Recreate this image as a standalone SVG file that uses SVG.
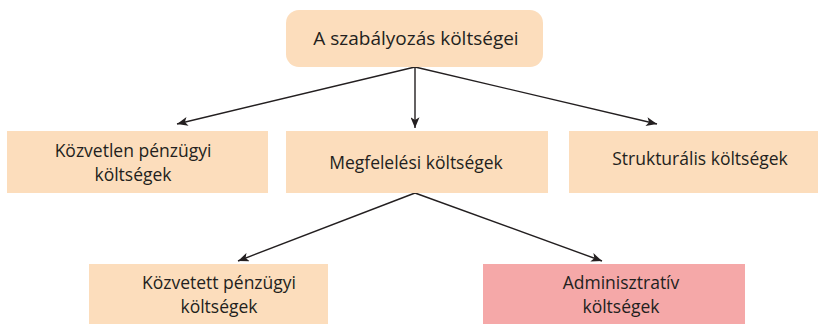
<svg xmlns="http://www.w3.org/2000/svg" width="820" height="324" viewBox="0 0 820 324">
<style>
.box{fill:#FCDDBC}
.pink{fill:#F5A8A8}
.t{font-family:"Open Sans","Liberation Sans",sans-serif;font-size:17.5px;fill:#231F20;text-anchor:middle}
.big{font-size:19px}
.c{stroke:#231F20;stroke-width:1.4;fill:none}
</style>
<defs>
<marker id="ah" viewBox="0 0 12 10" refX="12" refY="5" markerWidth="12" markerHeight="9" markerUnits="userSpaceOnUse" orient="auto">
<path d="M0,0 L12,5 L0,10 L3,5 z" fill="#231F20"/>
</marker>
</defs>
<rect width="820" height="324" fill="#fff"/>
<g id="connectors">
<line class="c" x1="415" y1="67" x2="415" y2="128" marker-end="url(#ah)"/>
<line class="c" x1="415" y1="67" x2="177" y2="124" marker-end="url(#ah)"/>
<line class="c" x1="415" y1="67" x2="657" y2="124" marker-end="url(#ah)"/>
<line class="c" x1="415" y1="193" x2="238" y2="261" marker-end="url(#ah)"/>
<line class="c" x1="415" y1="193" x2="602" y2="261" marker-end="url(#ah)"/>
</g>
<g id="top">
<rect class="box" x="286" y="10" width="257" height="57" rx="13"/>
<text class="t big" x="416" y="45">A szabályozás költségei</text>
</g>
<g id="kozvetlen">
<rect class="box" x="7" y="131" width="261" height="62"/>
<text class="t" x="133" y="157">Közvetlen pénzügyi</text>
<text class="t" x="133" y="181">költségek</text>
</g>
<g id="megfelelesi">
<rect class="box" x="286" y="131" width="262" height="62"/>
<text class="t" x="416" y="169">Megfelelési költségek</text>
</g>
<g id="strukturalis">
<rect class="box" x="569" y="131" width="249" height="62"/>
<text class="t" x="700" y="165">Strukturális költségek</text>
</g>
<g id="kozvetett">
<rect class="box" x="89" y="264" width="239" height="60"/>
<text class="t" x="219" y="289">Közvetett pénzügyi</text>
<text class="t" x="219" y="313">költségek</text>
</g>
<g id="adminisztrativ">
<rect class="pink" x="483" y="264" width="262" height="60"/>
<text class="t" x="621" y="289">Adminisztratív</text>
<text class="t" x="621" y="313">költségek</text>
</g>
</svg>
